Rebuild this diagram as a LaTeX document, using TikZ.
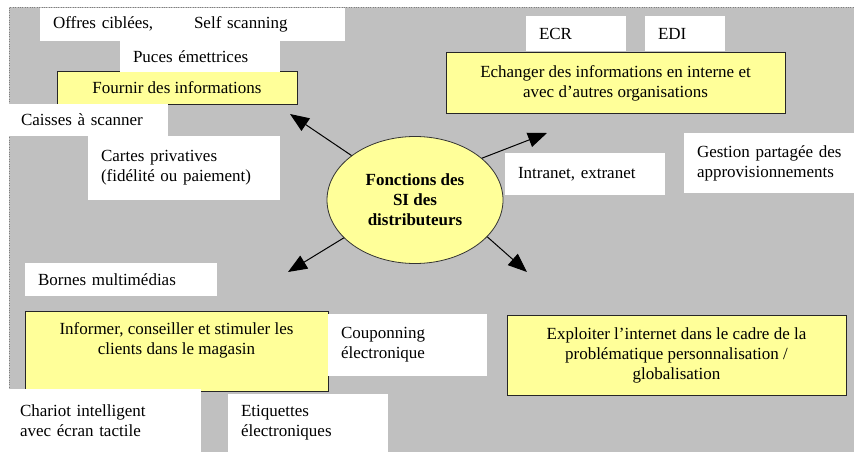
\documentclass[tikz,border=0pt]{standalone}
\usepackage{fontspec}
\setmainfont{Liberation Serif}
\usetikzlibrary{arrows.meta,shapes.geometric}

\definecolor{bggray}{HTML}{C0C0C0}
\definecolor{boxyellow}{HTML}{FFFF99}

\tikzset{
    white box/.style = {
        fill=white,
        anchor=north west,
        align=left,
        inner xsep=13pt,
        inner ysep=0,
        outer sep=0,
    },
    yellow box/.style = {
        fill=boxyellow,
        draw=black!85,
        line width=1pt,
        anchor=north west,
        align=center,
        inner sep=0,
        outer sep=0,
    },
    centre ellipse/.style = {
        ellipse,
        fill=boxyellow,
        draw=black!80,
        line width=0.8pt,
        align=center,
        inner sep=0,
        minimum width=176pt,
        minimum height=127pt,
        font=\fontsize{17pt}{20pt}\selectfont\bfseries,
    },
    big arrow/.style = {
        -{Triangle[length=19pt,width=15pt]},
        line width=1pt,
    },
}

\begin{document}
\begin{tikzpicture}[x=1pt, y=-1pt, font=\fontsize{17pt}{20pt}\selectfont]
    \useasboundingbox (0,0) rectangle (854,452);

    % grey frame
    \fill[bggray] (9,7) rectangle (854,452);
    \draw[dotted, black!50] (9,452) -- (9,7) -- (854,7);

    % the four functions
    \node[yellow box, minimum width=240pt, minimum height=32pt] (fournir) at (57,72)
        {Fournir des informations};
    \node[yellow box, minimum width=339pt, minimum height=60pt] (echanger) at (446,53)
        {Echanger des informations en interne et\\avec d’autres organisations};
    \node[yellow box, minimum width=303pt, minimum height=80pt,
        label={[anchor=north, align=center, inner sep=0, yshift=-11pt]north:Informer, conseiller et stimuler les\\clients dans le magasin}]
        (informer) at (25,311) {};
    \node[yellow box, minimum width=339pt, minimum height=80pt] (exploiter) at (507,315)
        {Exploiter l’internet dans le cadre de la\\problématique personnalisation /\\globalisation};

    % tools (white labels)
    \foreach \x/\y/\w/\h/\nm/\txt [evaluate=\w as \tw using \w-26] in {
        40/8/305/33/offres/{Offres ciblées,\hspace{2.4em}Self scanning},
        120/41/160/31/puces/{Puces émettrices},
        8/104/160/32/caisses/{Caisses à scanner},
        88/136/192/64/cartes/{Cartes privatives\\(fidélité ou paiement)},
        526/16/100/35/ecr/{ECR},
        645/16/80/35/edi/{EDI},
        505/153/160/42/intranet/{Intranet, extranet},
        684/133/180/60/gestion/{Gestion partagée des\\approvisionnements},
        25/263/192/33/bornes/{Bornes multimédias},
        328/314/159/62/coupons/{Couponning\\électronique},
        7/389/194/63/chariot/{Chariot intelligent\\avec écran tactile},
        228/394/160/58/etiquettes/{Etiquettes\\électroniques}
    } {
        \node[white box, text width=\tw pt, minimum height=\h pt] (\nm) at (\x,\y) {\txt};
    }

    % centre
    \node[centre ellipse] (fonctions) at (415,200) {Fonctions des\\SI des\\distributeurs};

    \coordinate (tip nw) at (290,114);
    \coordinate (tip ne) at (547,133);
    \coordinate (tip sw) at (288,272);
    \coordinate (tip se) at (527,272);

    \foreach \ang/\tip in {145/nw, 32/ne, 208/sw, 333/se} {
        \draw[big arrow] (fonctions.\ang) -- (tip \tip);
    }

\end{tikzpicture}
\end{document}
